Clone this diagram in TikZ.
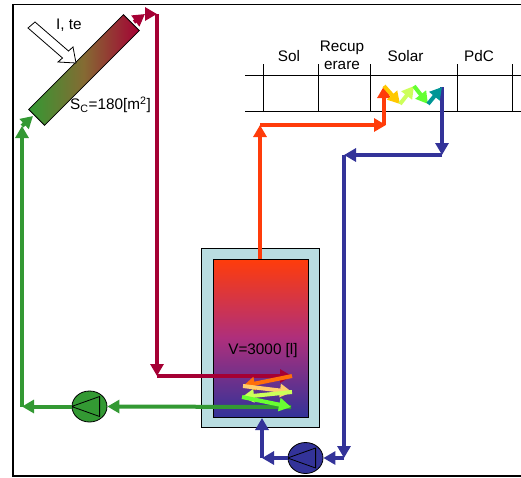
\documentclass[tikz,border=0pt]{standalone}
\usepackage{fontspec}
\setmainfont{Liberation Sans}
\usetikzlibrary{arrows.meta, positioning, shapes.geometric}

\definecolor{solcrimson}{HTML}{A50034}
\definecolor{solgreen}{HTML}{339933}
\definecolor{solnavy}{HTML}{333399}
\definecolor{solred}{HTML}{FF3C0A}
\definecolor{solshell}{HTML}{B9DDE1}
\definecolor{solmid}{HTML}{AE2F7C}
\definecolor{solbrown}{HTML}{856A33}

\begin{document}
\begin{tikzpicture}[
    x=1pt, y=-1pt,
    font=\fontsize{15.3}{18}\selectfont,
    pipe/.style={-{Triangle[length=12pt, width=13pt]}, line width=4pt},
    pump/.style={draw=black, ellipse, line width=0.8pt, minimum width=35pt,
                 minimum height=31pt, inner sep=0pt},
    pumpline/.style={line width=0.8pt, line join=round},
    rule/.style={line width=0.8pt},
    label/.style={inner sep=0pt, align=center}
]
\useasboundingbox (0,0) rectangle (521,477);

%% ---- FRAME -----------------------------------------------------
\draw[line width=1.2pt] (521,4.5) -- (13,4.5) -- (13,476) -- (521,476);

%% ---- TABLE (top right) -----------------------------------------
\draw[rule] (245,75.5) -- (521,75.5);
\draw[rule] (245,111) -- (521,111);
\foreach \x in {263.5, 318.5, 370, 457, 512}
    \draw[rule] (\x,64) -- (\x,111);

\node[label] (sol)   at (289,56)   {Sol};
\node[label] (recup) at (342,55.5) {Recup\\erare};
\node[label] (solar) at (405.5,56) {Solar};
\node[label] (pdc)   at (479,56)   {PdC};

%% ---- COLLECTOR -------------------------------------------------
\node[rotate=45, minimum width=134pt, minimum height=22.5pt, inner sep=0pt,
      draw=black, line width=0.8pt, left color=solgreen, right color=solcrimson,
      middle color=solbrown] (collector) at (84,70) {};

\draw[fill=white, line width=0.8pt, line join=miter]
    (28,28) -- (35,22) -- (68.5,51) -- (73,47) -- (76,63) -- (58,62) -- (62.5,58) -- cycle;
\node[label] (ite)  at (69,25)   {I, te};
\node[label] (area) at (110.5,105) {S\textsubscript{C}=180[m\textsuperscript{2}]};

%% ---- TANK ------------------------------------------------------
\node[draw=black, fill=solshell, line width=0.8pt, minimum width=118pt,
      minimum height=179pt, inner sep=0pt] (shell) at (260,337.5) {};
\node[draw=black, line width=0.8pt, minimum width=95pt, minimum height=158pt,
      inner sep=0pt, top color=solred, bottom color=solnavy, middle color=solmid]
      (tank) at (260.5,338) {};
\node[label] (volume) at (263,351) {V=3000 [l]};

%% ---- PUMPS -----------------------------------------------------
\node[pump, fill=solgreen] (pumpgreen) at (89.5,406.5) {};
\node[pump, fill=solnavy]  (pumpnavy)  at (305.5,458)  {};
\draw[pumpline] (pumpgreen.west) -- ++(28,-10) -- ++(0,20) -- cycle;
\draw[pumpline] (pumpnavy.west)  -- ++(28,-10) -- ++(0,20) -- cycle;

%% ---- BEND POINTS -----------------------------------------------
\coordinate (cA) at (134,22);
\coordinate (cB) at (145,14);
\coordinate (cC) at (157,14);
\coordinate (cD) at (157,376);
\coordinate (cE) at (292,376);
\coordinate (zA) at (243,386);
\coordinate (zB) at (292,392);
\coordinate (zC) at (242,397);
\coordinate (zD) at (291,407);
\coordinate (gA) at (22,406.5);
\coordinate (gB) at (22,126);
\coordinate (gC) at (33,116);
\coordinate (rA) at (260,259);
\coordinate (rB) at (260,125);
\coordinate (rC) at (386,125);
\coordinate (rD) at (384,125);
\coordinate (sA) at (384,86);
\coordinate (sB) at (400,104);
\coordinate (sC) at (414,86);
\coordinate (sD) at (428,104);
\coordinate (sE) at (442,87);
\coordinate (nA) at (442,155);
\coordinate (nB) at (344,155);
\coordinate (nC) at (344,458);
\coordinate (nD) at (262,458);
\coordinate (nE) at (262,418);

%% ---- CRIMSON LOOP ----------------------------------------------
\draw[pipe, solcrimson] (cA) -- (cB);
\draw[pipe, solcrimson] (cB) -- (cC);
\draw[pipe, solcrimson] (cC) -- (cD);
\draw[pipe, solcrimson] (cD) -- (cE);

%% ---- GREEN LOOP ------------------------------------------------
\draw[pipe, solgreen] (zD) -- (pumpgreen.east);
\draw[pipe, solgreen] (pumpgreen.west) -- (gA);
\draw[pipe, solgreen] (gA) -- (gB);
\draw[pipe, solgreen] (gB) -- (gC);

%% ---- HEAT EXCHANGE IN TANK -------------------------------------
\draw[pipe, color={rgb,255:red,255;green,110;blue,10}] (cE) -- (zA);
\draw[pipe, color={rgb,255:red,255;green,205;blue,110}] (zA) -- (zB);
\draw[pipe, color={rgb,255:red,205;green,255;blue,90}] (zB) -- (zC);
\draw[pipe, color={rgb,255:red,105;green,255;blue,50}] (zC) -- (zD);

%% ---- NAVY LOOP -------------------------------------------------
\draw[pipe, solnavy] (sE) -- (nA);
\draw[pipe, solnavy] (nA) -- (nB);
\draw[pipe, solnavy] (nB) -- (nC);
\draw[pipe, solnavy] (nC) -- (pumpnavy.east);
\draw[pipe, solnavy] (pumpnavy.west) -- (nD);
\draw[pipe, solnavy] (nD) -- (nE);

%% ---- RED / SOLAR SECTION ---------------------------------------
\draw[pipe, solred] (rA) -- (rB);
\draw[pipe, solred] (rB) -- (rC);
\draw[pipe, solred] (rD) -- (sA);
\draw[pipe, color={rgb,255:red,255;green,200;blue,0}] (sA) -- (sB);
\draw[pipe, color={rgb,255:red,205;green,255;blue,90}] (sB) -- (sC);
\draw[pipe, color={rgb,255:red,100;green,255;blue,50}] (sC) -- (sD);
\draw[pipe, color={rgb,255:red,0;green,150;blue,150}] (sD) -- (sE);

\end{tikzpicture}
\end{document}
